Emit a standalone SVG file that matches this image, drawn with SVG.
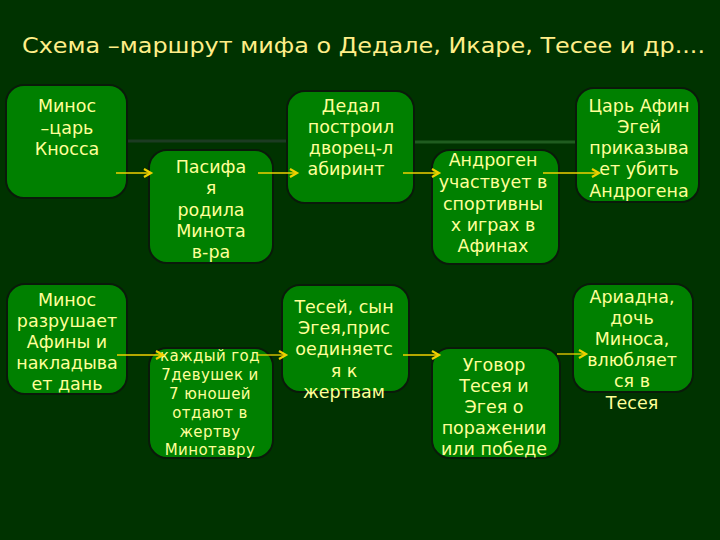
<svg xmlns="http://www.w3.org/2000/svg" width="720" height="540" viewBox="0 0 720 540">
<defs>
<style>
.box{fill:#008000;stroke:#0a1a0a;stroke-width:2}
.t{font-family:"DejaVu Sans","Liberation Sans",sans-serif;font-size:17.5px;fill:#ffff99;text-anchor:middle}
.ts{font-family:"DejaVu Sans","Liberation Sans",sans-serif;font-size:15px;fill:#ffff99;text-anchor:middle;letter-spacing:0.4px}
.title{font-family:"DejaVu Sans Condensed","DejaVu Sans",sans-serif;font-stretch:condensed;font-size:22px;fill:#ffee88}
.arr{stroke:#f0d000;stroke-width:1.3;fill:none;marker-end:url(#ah)}
</style>
<marker id="ah" markerUnits="userSpaceOnUse" markerWidth="12" markerHeight="12" refX="9" refY="5" orient="auto">
<path d="M2,1 L9,5 L2,9" fill="none" stroke="#f0d000" stroke-width="2.2"/>
</marker>
</defs>
<rect width="720" height="540" fill="#003300"/>
<text class="title" x="22" y="53" textLength="683" lengthAdjust="spacingAndGlyphs">Схема –маршрут мифа о Дедале, Икаре, Тесее и др....</text>
<g id="decor">
<line x1="127" y1="141" x2="288" y2="141" stroke="#1c3b22" stroke-width="3"/>
<line x1="414" y1="142" x2="577" y2="142" stroke="#1f5c1f" stroke-width="3"/>
</g>
<g id="n1"><rect class="box" x="6" y="85" width="121" height="113" rx="18"/>
<text class="t" x="67" y="112">Минос</text><text class="t" x="67" y="134">–царь</text><text class="t" x="67" y="155">Кносса</text></g>
<g id="n2"><rect class="box" x="149" y="150" width="124" height="113" rx="18"/>
<text class="t" x="211" y="173">Пасифа</text><text class="t" x="211" y="194">я</text><text class="t" x="211" y="216">родила</text><text class="t" x="211" y="237">Минота</text><text class="t" x="211" y="258">в-ра</text></g>
<g id="n3"><rect class="box" x="287" y="91" width="127" height="112" rx="18"/>
<text class="t" x="351" y="112">Дедал</text><text class="t" x="351" y="133">построил</text><text class="t" x="351" y="154">дворец-л</text><text class="t" x="346" y="175">абиринт</text></g>
<g id="n4"><rect class="box" x="432" y="150" width="127" height="114" rx="18"/>
<text class="t" x="493" y="166">Андроген</text><text class="t" x="493" y="188">участвует в</text><text class="t" x="493" y="210">спортивны</text><text class="t" x="493" y="231">х играх в</text><text class="t" x="493" y="252">Афинах</text></g>
<g id="n5"><rect class="box" x="576" y="88" width="123" height="114" rx="18"/>
<text class="t" x="639" y="112">Царь Афин</text><text class="t" x="639" y="133">Эгей</text><text class="t" x="639" y="154">приказыва</text><text class="t" x="639" y="175">ет убить</text><text class="t" x="639" y="197">Андрогена</text></g>
<g id="n6"><rect class="box" x="7" y="284" width="120" height="110" rx="18"/>
<text class="t" x="67" y="306">Минос</text><text class="t" x="67" y="327">разрушает</text><text class="t" x="67" y="348">Афины и</text><text class="t" x="67" y="369">накладыва</text><text class="t" x="67" y="390">ет дань</text></g>
<g id="n7"><rect class="box" x="149" y="348" width="124" height="110" rx="18"/>
<text class="ts" x="210" y="361">каждый год</text><text class="ts" x="210" y="380">7девушек и</text><text class="ts" x="210" y="399">7 юношей</text><text class="ts" x="210" y="418">отдают в</text><text class="ts" x="210" y="437">жертву</text><text class="ts" x="210" y="455">Минотавру</text></g>
<g id="n8"><rect class="box" x="282" y="285" width="127" height="107" rx="18"/>
<text class="t" x="344" y="313">Тесей, сын</text><text class="t" x="344" y="334">Эгея,прис</text><text class="t" x="344" y="355">оединяетс</text><text class="t" x="344" y="377">я к</text><text class="t" x="344" y="398">жертвам</text></g>
<g id="n9"><rect class="box" x="432" y="348" width="128" height="110" rx="18"/>
<text class="t" x="494" y="371">Уговор</text><text class="t" x="494" y="392">Тесея и</text><text class="t" x="494" y="413">Эгея о</text><text class="t" x="494" y="434">поражении</text><text class="t" x="494" y="455">или победе</text></g>
<g id="n10"><rect class="box" x="573" y="284" width="120" height="108" rx="18"/>
<text class="t" x="632" y="303">Ариадна,</text><text class="t" x="632" y="324">дочь</text><text class="t" x="632" y="345">Миноса,</text><text class="t" x="632" y="366">влюбляет</text><text class="t" x="632" y="387">ся в</text><text class="t" x="632" y="409">Тесея</text></g>
<g id="connectors">
<line class="arr" x1="116" y1="173" x2="151" y2="173"/>
<line class="arr" x1="258" y1="173" x2="297" y2="173"/>
<line class="arr" x1="403" y1="173" x2="439" y2="173"/>
<line class="arr" x1="543" y1="173" x2="599" y2="173"/>
<line class="arr" x1="117" y1="355" x2="163" y2="355"/>
<line class="arr" x1="258" y1="355" x2="286" y2="355"/>
<line class="arr" x1="403" y1="355" x2="439" y2="355"/>
<line class="arr" x1="557" y1="354" x2="586" y2="354"/>
</g>
</svg>
